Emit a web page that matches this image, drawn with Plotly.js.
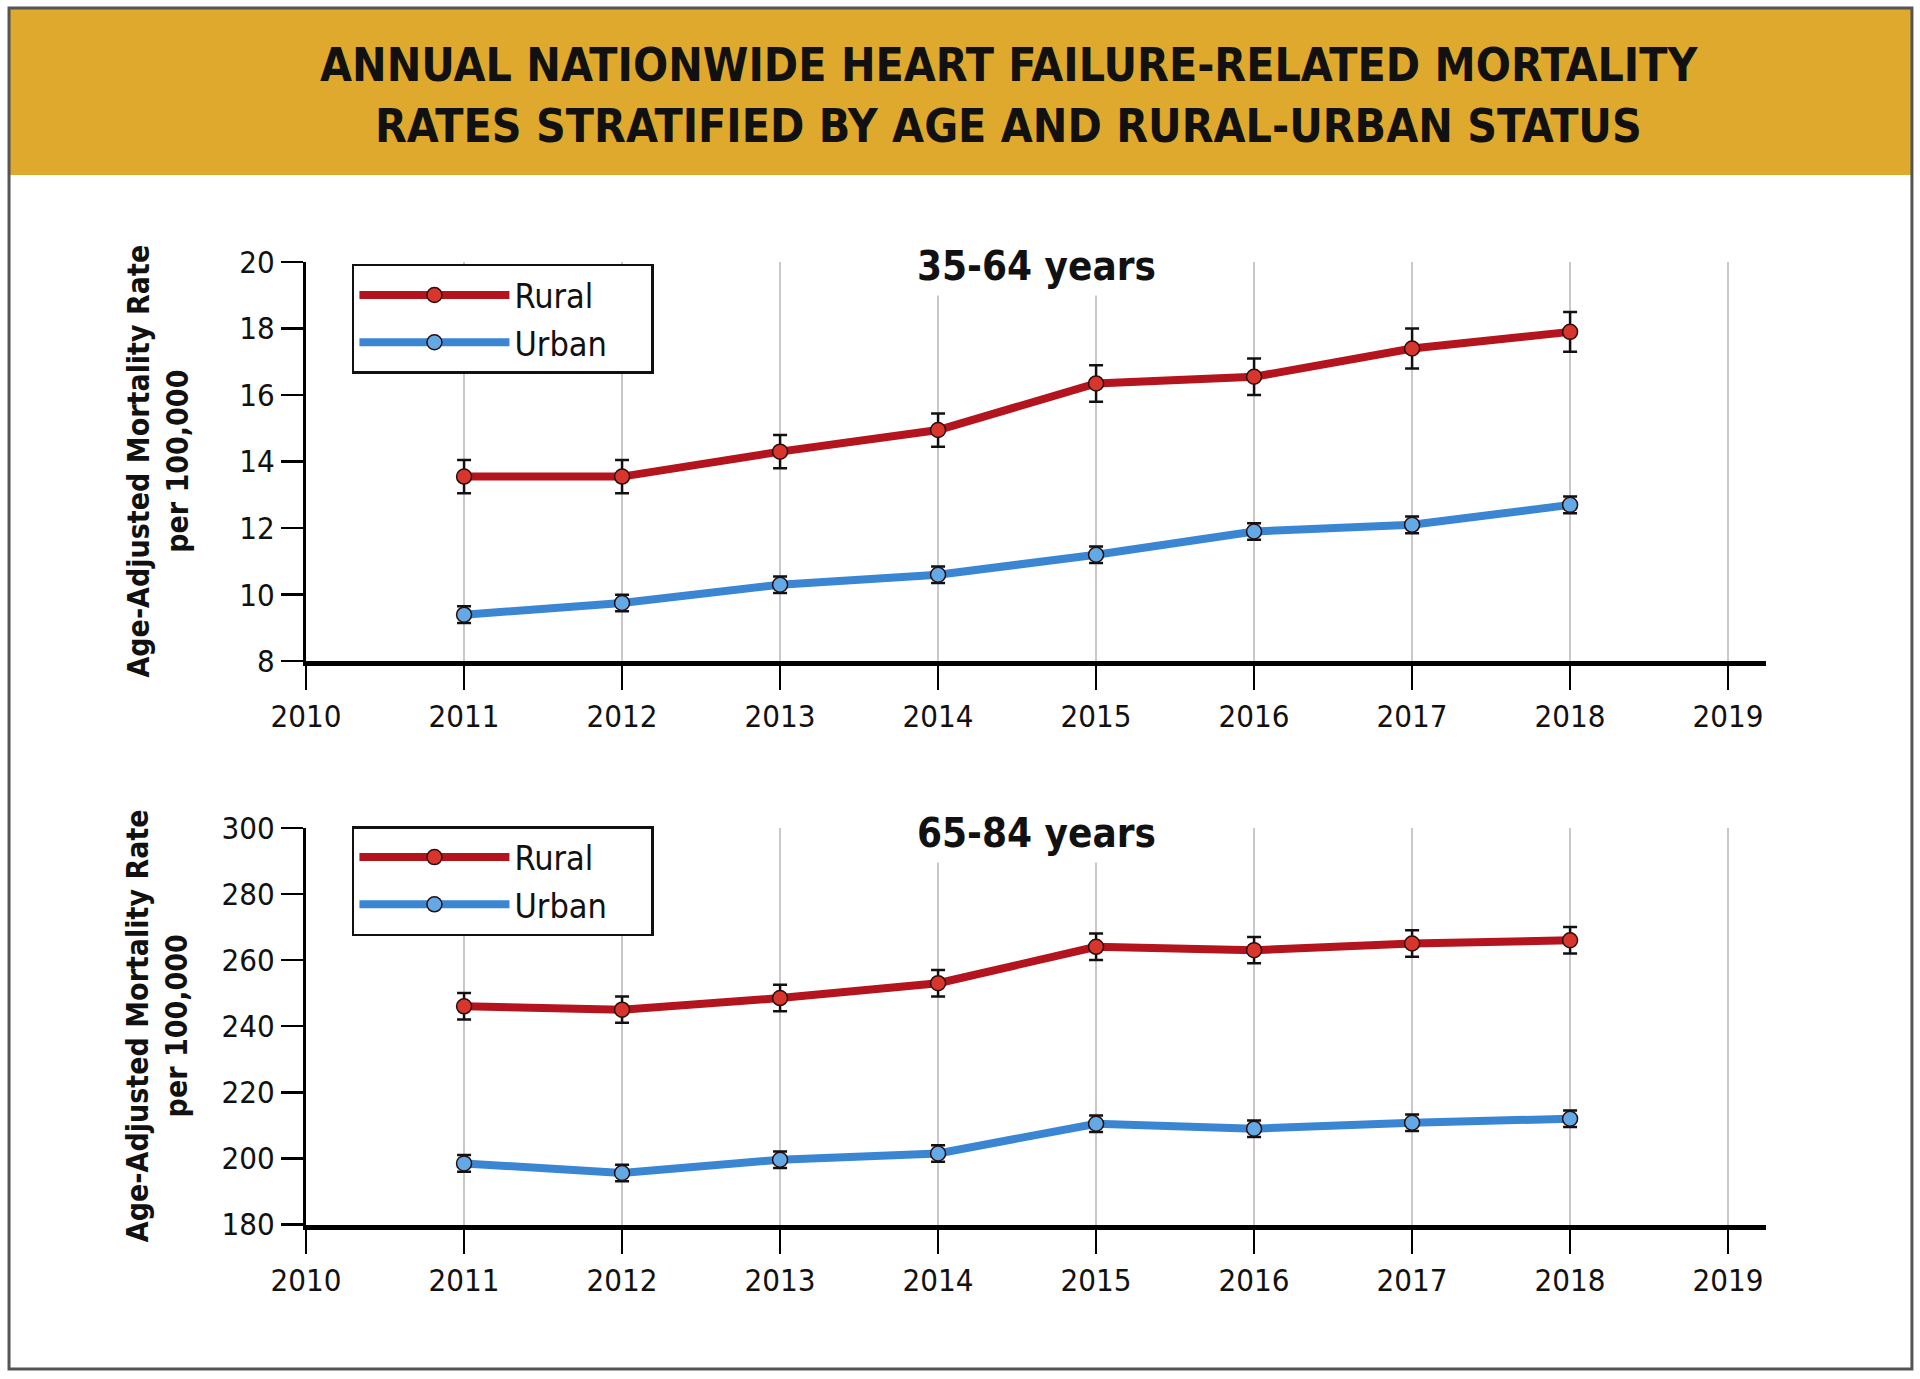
<!DOCTYPE html>
<html>
<head>
<meta charset="utf-8">
<script src="https://cdn.plot.ly/plotly-3.0.1.min.js"></script>
<style>
  body { margin: 0; background: #fff; }
  #plot { width: 1920px; height: 1379px; }
</style>
</head>
<body>
<div id="plot"></div>
<script>
// years on the x axis
var years = [2011, 2012, 2013, 2014, 2015, 2016, 2017, 2018];
var yearTicks = [2010, 2011, 2012, 2013, 2014, 2015, 2016, 2017, 2018, 2019];

// 35-64 years
var rural3564 = [13.55, 13.55, 14.3, 14.95, 16.35, 16.55, 17.4, 17.9];
var rural3564Err = [0.5, 0.5, 0.5, 0.5, 0.55, 0.55, 0.6, 0.6];
var urban3564 = [9.4, 9.75, 10.3, 10.6, 11.2, 11.9, 12.1, 12.7];
var urban3564Err = [0.25, 0.25, 0.25, 0.25, 0.25, 0.25, 0.25, 0.25];

// 65-84 years
var rural6584 = [246, 245, 248.5, 253, 264, 263, 265, 266];
var rural6584Err = [4, 4, 4, 4, 4, 4, 4, 4];
var urban6584 = [198.5, 195.6, 199.6, 201.5, 210.5, 209, 210.8, 212];
var urban6584Err = [2.5, 2.5, 2.5, 2.5, 2.5, 2.5, 2.5, 2.5];

var font = "DejaVu Sans Condensed, Liberation Sans Narrow, Arial Narrow, sans-serif";
var ruralLine = "#b3141d", ruralDot = "#d8362c";
var urbanLine = "#3b86d3", urbanDot = "#63a9e6";

// trailing spaces widen the legend box like the original
var pad = "\u00a0\u00a0\u00a0\u00a0";

function series(y, err, name, lineCol, dotCol, xa, ya, leg) {
    return {
        x: years,
        y: y,
        name: name + pad,
        type: "scatter",
        mode: "lines+markers",
        xaxis: xa,
        yaxis: ya,
        legend: leg,
        line: { color: lineCol, width: 8 },
        marker: { color: dotCol, size: 15, line: { color: "#2a0d0d", width: 1.5 } },
        error_y: { type: "data", array: err, visible: true, color: "#111", thickness: 2.5, width: 7 }
    };
}

var data = [
    series(rural3564, rural3564Err, "Rural", ruralLine, ruralDot, "x", "y", "legend"),
    series(urban3564, urban3564Err, "Urban", urbanLine, urbanDot, "x", "y", "legend"),
    series(rural6584, rural6584Err, "Rural", ruralLine, ruralDot, "x2", "y2", "legend2"),
    series(urban6584, urban6584Err, "Urban", urbanLine, urbanDot, "x2", "y2", "legend2")
];

function xAxis(anchor) {
    return {
        domain: [0.1594, 0.9198],
        range: [2010, 2019.24],
        anchor: anchor,
        tickmode: "array",
        tickvals: yearTicks,
        ticktext: yearTicks.map(String),
        showgrid: true,
        gridcolor: "#c9c9c9",
        gridwidth: 1.5,
        zeroline: false,
        showline: true,
        linecolor: "#000",
        linewidth: 5,
        ticks: "outside",
        ticklen: 24,
        tickwidth: 2.5,
        tickcolor: "#000",
        ticklabelstandoff: 0,
        tickfont: { family: font, size: 31, color: "#111" }
    };
}

function yAxis(anchor, domain, range, dtick) {
    return {
        domain: domain,
        range: range,
        dtick: dtick,
        anchor: anchor,
        showgrid: false,
        zeroline: false,
        showline: true,
        linecolor: "#000",
        linewidth: 3,
        ticks: "outside",
        ticklen: 22,
        tickwidth: 2.5,
        tickcolor: "#000",
        tickfont: { family: font, size: 31, color: "#111" }
    };
}

function legendBox(y) {
    return {
        x: 0.1833, y: y, xanchor: "left", yanchor: "top",
        bgcolor: "#fff", bordercolor: "#111", borderwidth: 2.5,
        itemwidth: 150,
        font: { family: font, size: 34, color: "#111" }
    };
}

var ytitle = "<b>Age-Adjusted Mortality Rate<br>per 100,000</b>";

var layout = {
    width: 1920,
    height: 1379,
    margin: { l: 0, r: 0, t: 0, b: 0 },
    paper_bgcolor: "#fff",
    plot_bgcolor: "#fff",
    showlegend: true,
    xaxis: xAxis("y"),
    yaxis: yAxis("x", [0.5205, 0.8100], [8, 20], 2),
    xaxis2: xAxis("y2"),
    yaxis2: yAxis("x2", [0.1120, 0.3997], [180, 300], 20),
    legend: legendBox(0.8086),
    legend2: legendBox(0.4010),
    shapes: [
        { type: "rect", xref: "paper", yref: "paper", layer: "below",
          x0: 0.0052, x1: 0.9953, y0: 1 - 175 / 1379, y1: 1 - 8 / 1379,
          fillcolor: "#dea92c", line: { width: 0 } },
        { type: "rect", xref: "paper", yref: "paper",
          x0: 0.0047, x1: 0.9958, y0: 1 - 1369 / 1379, y1: 1 - 8 / 1379,
          line: { color: "#555", width: 3 } }
    ],
    annotations: [
        { text: "<b>ANNUAL NATIONWIDE HEART FAILURE-RELATED MORTALITY</b>",
          xref: "paper", yref: "paper", x: 0.5255, y: 1 - 65 / 1379,
          xanchor: "center", yanchor: "middle", showarrow: false,
          font: { family: font, size: 46, color: "#111" } },
        { text: "<b>RATES STRATIFIED BY AGE AND RURAL-URBAN STATUS</b>",
          xref: "paper", yref: "paper", x: 0.5255, y: 1 - 126 / 1379,
          xanchor: "center", yanchor: "middle", showarrow: false,
          font: { family: font, size: 46, color: "#111" } },
        { text: "<b>35-64 years</b>", xref: "paper", yref: "paper",
          x: 0.540, y: 1 - 266 / 1379, xanchor: "center", yanchor: "middle",
          showarrow: false, bgcolor: "#fff", borderpad: 6,
          font: { family: font, size: 40, color: "#111" } },
        { text: "<b>65-84 years</b>", xref: "paper", yref: "paper",
          x: 0.540, y: 1 - 833 / 1379, xanchor: "center", yanchor: "middle",
          showarrow: false, bgcolor: "#fff", borderpad: 6,
          font: { family: font, size: 40, color: "#111" } },
        { text: ytitle, xref: "paper", yref: "paper", textangle: -90,
          x: 0.0818, y: 0.6653, xanchor: "center", yanchor: "middle",
          showarrow: false, font: { family: font, size: 30, color: "#111" } },
        { text: ytitle, xref: "paper", yref: "paper", textangle: -90,
          x: 0.0818, y: 0.2559, xanchor: "center", yanchor: "middle",
          showarrow: false, font: { family: font, size: 30, color: "#111" } }
    ]
};

Plotly.newPlot("plot", data, layout, { displayModeBar: false, staticPlot: true });
</script>
</body>
</html>
